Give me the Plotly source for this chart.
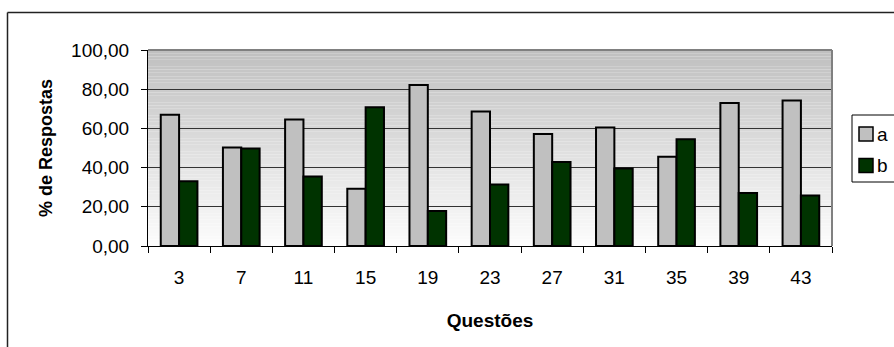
import plotly.graph_objects as go

questoes = ["3", "7", "11", "15", "19", "23", "27", "31", "35", "39", "43"]
serie_a = [67.0, 50.2, 64.5, 29.2, 82.2, 68.6, 57.1, 60.4, 45.5, 72.9, 74.2]
serie_b = [33.0, 49.8, 35.5, 70.8, 17.8, 31.4, 42.9, 39.6, 54.5, 27.1, 25.8]
y_ticks = [0, 20, 40, 60, 80, 100]
nomes = ["a", "b"]
cores = ["#C0C0C0", "#003300"]

W, H = 894, 347
L, R, T, B = 148, 832, 50, 246
FONT = "Liberation Sans, Arial, sans-serif"
pw, ph = R - L, B - T


def px(x):
    return (x - L) / pw


def py(y):
    return (B - y) / ph


fig = go.Figure()
for nome, cor, vals in zip(nomes, cores, [serie_a, serie_b]):
    fig.add_trace(go.Bar(name=nome, x=questoes, y=vals, showlegend=False,
                         hoverinfo="skip",
                         marker=dict(color=cor, line=dict(color="black", width=2))))

shapes = []
# gradient background of the plot area
n = 60
for i in range(n):
    f = i / (n - 1)
    c = int(round(192 + (252 - 192) * f))
    shapes.append(dict(type="rect", xref="x domain", yref="y domain",
                       x0=0, x1=1, y0=1 - (i + 1) / n, y1=1 - i / n,
                       fillcolor=f"rgb({c},{c},{c})", line=dict(width=0),
                       layer="below"))
# gray top/right border of plot area
shapes.append(dict(type="line", xref="paper", yref="paper", x0=0, x1=1, y0=1, y1=1,
                   line=dict(color="#808080", width=2)))
shapes.append(dict(type="line", xref="paper", yref="paper", x0=1, x1=1, y0=0, y1=1,
                   line=dict(color="#808080", width=2)))
# outer chart frame (left and top visible)
shapes.append(dict(type="line", xref="paper", yref="paper", x0=px(7.5), x1=px(7.5),
                   y0=py(H + 5), y1=py(12.5), line=dict(color="#222222", width=1.5)))
shapes.append(dict(type="line", xref="paper", yref="paper", x0=px(7.5), x1=px(W + 5),
                   y0=py(12.5), y1=py(12.5), line=dict(color="#222222", width=1.5)))

# legend (box, swatches, labels)
shapes.append(dict(type="rect", xref="paper", yref="paper", x0=px(852), x1=px(W + 5),
                   y0=py(182), y1=py(115), fillcolor="white",
                   line=dict(color="black", width=1)))
annotations = []
for k, (nome, cor) in enumerate(zip(nomes, cores)):
    cy = 134 + 31.5 * k
    shapes.append(dict(type="rect", xref="paper", yref="paper", x0=px(859), x1=px(873),
                       y0=py(cy + 7), y1=py(cy - 7), fillcolor=cor,
                       line=dict(color="black", width=1.5)))
    annotations.append(dict(text=nome, xref="paper", yref="paper", x=px(875), y=py(cy),
                            xanchor="left", yanchor="middle", showarrow=False,
                            font=dict(family=FONT, size=19, color="black")))

fig.update_layout(
    width=W, height=H,
    margin=dict(l=L, r=W - R, t=T, b=H - B, autoexpand=False),
    paper_bgcolor="white", plot_bgcolor="white",
    barmode="group", bargap=0.41, bargroupgap=0,
    separators=",.",
    font=dict(family=FONT, size=19, color="black"),
    shapes=shapes,
    annotations=annotations,
    showlegend=False,
    hovermode=False,
)
fig.update_xaxes(
    type="category",
    showline=True, linecolor="black", linewidth=1,
    ticks="outside", ticklen=6, tickcolor="black", tickson="boundaries",
    ticklabelstandoff=14,
    showgrid=False,
    title=dict(text="<b>Questões</b>", font=dict(family=FONT, size=19), standoff=26),
    tickfont=dict(family=FONT, size=19),
)
fig.update_yaxes(
    range=[0, 100], tickvals=y_ticks, tickformat=".2f",
    showline=True, linecolor="black", linewidth=1,
    ticks="outside", ticklen=6, tickcolor="black",
    ticklabelstandoff=8,
    showgrid=True, gridcolor="#333333", gridwidth=1,
    zeroline=False,
    title=dict(text="<b>% de Respostas</b>", font=dict(family=FONT, size=18), standoff=13),
    tickfont=dict(family=FONT, size=19),
)

fig.write_html("out.html", config={"displayModeBar": False},
               post_script="document.body.style.margin='0';")
